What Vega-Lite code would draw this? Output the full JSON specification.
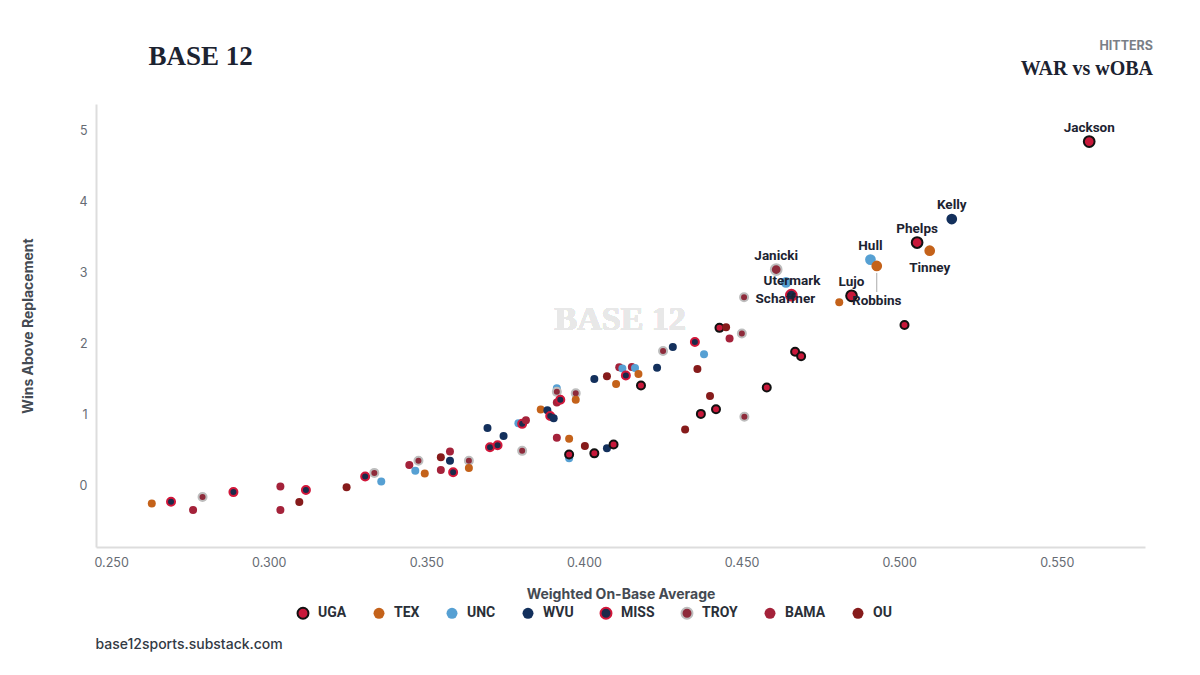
{
  "$schema": "https://vega.github.io/schema/vega-lite/v6.json",
  "width": 1049,
  "height": 443,
  "autosize": {"type": "none"},
  "padding": {"left": 96, "top": 104, "right": 55, "bottom": 128},
  "background": "white",
  "title": {
    "text": "HITTERS",
    "subtitle": "WAR vs wOBA",
    "anchor": "end",
    "frame": "group",
    "dx": 8,
    "offset": -37,
    "font": "Inter",
    "fontSize": 12.5,
    "fontWeight": "bold",
    "color": "#7a7f87",
    "subtitleFont": "Liberation Serif",
    "subtitleFontSize": 20,
    "subtitleFontWeight": "bold",
    "subtitleColor": "#1c2331",
    "subtitlePadding": 7
  },
  "data": {
    "values": [
      {"team": "TEX", "woba": 0.2629, "war": -0.25},
      {"team": "MISS", "woba": 0.2690, "war": -0.225},
      {"team": "BAMA", "woba": 0.2760, "war": -0.34},
      {"team": "TROY", "woba": 0.2790, "war": -0.16},
      {"team": "MISS", "woba": 0.2888, "war": -0.09},
      {"team": "BAMA", "woba": 0.3037, "war": -0.01},
      {"team": "BAMA", "woba": 0.3037, "war": -0.34},
      {"team": "OU", "woba": 0.3097, "war": -0.23},
      {"team": "MISS", "woba": 0.3118, "war": -0.06},
      {"team": "OU", "woba": 0.3247, "war": -0.02},
      {"team": "MISS", "woba": 0.3306, "war": 0.13},
      {"team": "TROY", "woba": 0.3335, "war": 0.18},
      {"team": "UNC", "woba": 0.3357, "war": 0.06},
      {"team": "BAMA", "woba": 0.3446, "war": 0.29},
      {"team": "TROY", "woba": 0.3475, "war": 0.35},
      {"team": "UNC", "woba": 0.3465, "war": 0.21},
      {"team": "TEX", "woba": 0.3495, "war": 0.17},
      {"team": "OU", "woba": 0.3546, "war": 0.40},
      {"team": "BAMA", "woba": 0.3575, "war": 0.48},
      {"team": "WVU", "woba": 0.3575, "war": 0.35},
      {"team": "BAMA", "woba": 0.3546, "war": 0.22},
      {"team": "MISS", "woba": 0.3585, "war": 0.19},
      {"team": "TROY", "woba": 0.3635, "war": 0.35},
      {"team": "TEX", "woba": 0.3635, "war": 0.25},
      {"team": "WVU", "woba": 0.3694, "war": 0.81},
      {"team": "MISS", "woba": 0.3702, "war": 0.54},
      {"team": "MISS", "woba": 0.3726, "war": 0.57},
      {"team": "WVU", "woba": 0.3745, "war": 0.70},
      {"team": "TROY", "woba": 0.3804, "war": 0.49},
      {"team": "UNC", "woba": 0.3792, "war": 0.88},
      {"team": "MISS", "woba": 0.3804, "war": 0.87},
      {"team": "BAMA", "woba": 0.3816, "war": 0.92},
      {"team": "TEX", "woba": 0.3863, "war": 1.07},
      {"team": "WVU", "woba": 0.3884, "war": 1.06},
      {"team": "MISS", "woba": 0.3893, "war": 0.98},
      {"team": "WVU", "woba": 0.3904, "war": 0.95},
      {"team": "UNC", "woba": 0.3914, "war": 1.37},
      {"team": "TROY", "woba": 0.3914, "war": 1.32},
      {"team": "BAMA", "woba": 0.3914, "war": 1.17},
      {"team": "MISS", "woba": 0.3925, "war": 1.21},
      {"team": "TROY", "woba": 0.3974, "war": 1.30},
      {"team": "TEX", "woba": 0.3974, "war": 1.21},
      {"team": "BAMA", "woba": 0.3914, "war": 0.675},
      {"team": "TEX", "woba": 0.3953, "war": 0.66},
      {"team": "UNC", "woba": 0.3953, "war": 0.385},
      {"team": "UGA", "woba": 0.3953, "war": 0.44},
      {"team": "OU", "woba": 0.4003, "war": 0.56},
      {"team": "UGA", "woba": 0.4033, "war": 0.455},
      {"team": "WVU", "woba": 0.4073, "war": 0.525},
      {"team": "UGA", "woba": 0.4094, "war": 0.58},
      {"team": "WVU", "woba": 0.4033, "war": 1.50},
      {"team": "OU", "woba": 0.4073, "war": 1.54},
      {"team": "TEX", "woba": 0.4102, "war": 1.43},
      {"team": "BAMA", "woba": 0.4112, "war": 1.665},
      {"team": "UNC", "woba": 0.4122, "war": 1.65},
      {"team": "MISS", "woba": 0.4133, "war": 1.55},
      {"team": "BAMA", "woba": 0.4152, "war": 1.67},
      {"team": "UNC", "woba": 0.4162, "war": 1.655},
      {"team": "TEX", "woba": 0.4173, "war": 1.57},
      {"team": "UGA", "woba": 0.4181, "war": 1.41},
      {"team": "WVU", "woba": 0.4232, "war": 1.66},
      {"team": "TROY", "woba": 0.4251, "war": 1.895},
      {"team": "WVU", "woba": 0.4282, "war": 1.95},
      {"team": "MISS", "woba": 0.4352, "war": 2.02},
      {"team": "UNC", "woba": 0.4381, "war": 1.85},
      {"team": "OU", "woba": 0.4360, "war": 1.64},
      {"team": "UGA", "woba": 0.4430, "war": 2.22},
      {"team": "OU", "woba": 0.4451, "war": 2.23},
      {"team": "BAMA", "woba": 0.4462, "war": 2.07},
      {"team": "TROY", "woba": 0.4501, "war": 2.14},
      {"team": "OU", "woba": 0.4400, "war": 1.26},
      {"team": "UGA", "woba": 0.4419, "war": 1.075},
      {"team": "UGA", "woba": 0.4371, "war": 1.01},
      {"team": "TROY", "woba": 0.4509, "war": 0.97},
      {"team": "OU", "woba": 0.4321, "war": 0.79},
      {"team": "UGA", "woba": 0.4580, "war": 1.38},
      {"team": "UGA", "woba": 0.4670, "war": 1.885},
      {"team": "UGA", "woba": 0.4689, "war": 1.82},
      {"team": "TEX", "woba": 0.4810, "war": 2.58},
      {"team": "TROY", "woba": 0.4508, "war": 2.65},
      {"team": "UGA", "woba": 0.5017, "war": 2.26},
      {"team": "TROY", "woba": 0.4610, "war": 3.04, "player": "Janicki"},
      {"team": "UNC", "woba": 0.4641, "war": 2.86, "player": "Utermark"},
      {"team": "MISS", "woba": 0.4658, "war": 2.68, "player": "Schaffner"},
      {"team": "UGA", "woba": 0.4849, "war": 2.67, "player": "Lujo"},
      {"team": "UNC", "woba": 0.4909, "war": 3.18, "player": "Hull"},
      {"team": "TEX", "woba": 0.4929, "war": 3.09, "player": "Robbins"},
      {"team": "UGA", "woba": 0.5057, "war": 3.42, "player": "Phelps"},
      {"team": "TEX", "woba": 0.5097, "war": 3.305, "player": "Tinney"},
      {"team": "WVU", "woba": 0.5167, "war": 3.75, "player": "Kelly"},
      {"team": "UGA", "woba": 0.5603, "war": 4.84, "player": "Jackson"}
    ]
  },
  "layer": [
    {
      "mark": {"type": "text", "text": "BASE 12", "font": "Liberation Serif", "fontSize": 34, "fontWeight": "bold", "color": "#e8e8e8"},
      "encoding": {
        "x": {"datum": 0.4115, "type": "quantitative", "axis": null},
        "y": {"datum": 2.33, "type": "quantitative", "axis": null}
      }
    },
    {
      "transform": [{"filter": "!datum.player"}],
      "mark": {"type": "point", "shape": "circle", "filled": true, "size": 64, "strokeWidth": 2, "opacity": 1},
      "encoding": {
        "x": {
          "field": "woba",
          "type": "quantitative",
          "scale": {"domain": [0.2452, 0.578], "nice": false, "zero": false},
          "axis": {
            "title": "Weighted On-Base Average",
            "values": [0.25, 0.3, 0.35, 0.4, 0.45, 0.5, 0.55],
            "format": ".3f",
            "titlePadding": 19
          }
        },
        "y": {
          "field": "war",
          "type": "quantitative",
          "scale": {"domain": [-0.862, 5.368], "nice": false, "zero": false},
          "axis": {
            "title": "Wins Above Replacement",
            "values": [0, 1, 2, 3, 4, 5],
            "titlePadding": 43
          }
        },
        "fill": {
          "field": "team",
          "type": "nominal",
          "title": null,
          "scale": {
            "domain": ["UGA", "TEX", "UNC", "WVU", "MISS", "TROY", "BAMA", "OU"],
            "range": ["#C8183A", "#C4621A", "#56A0D3", "#13305C", "#1B2A4A", "#8E2B3B", "#A4223A", "#861B1B"]
          },
          "legend": {
            "orient": "none",
            "direction": "horizontal",
            "legendX": 200,
            "legendY": 502,
            "symbolType": "circle",
            "symbolSize": 120,
            "symbolStrokeWidth": 2,
            "symbolOpacity": 1,
            "labelFont": "Roboto",
            "labelFontSize": 14,
            "labelFontWeight": "bold",
            "labelColor": "#2a2f38",
            "labelOffset": 8,
            "columnPadding": 22
          }
        },
        "stroke": {
          "field": "team",
          "type": "nominal",
          "title": null,
          "scale": {
            "domain": ["UGA", "TEX", "UNC", "WVU", "MISS", "TROY", "BAMA", "OU"],
            "range": ["#111111", "transparent", "transparent", "transparent", "#D2173A", "#BDBDBD", "transparent", "transparent"]
          }
        }
      }
    },
    {
      "transform": [{"filter": "datum.player"}],
      "mark": {"type": "point", "shape": "circle", "filled": true, "size": 115, "strokeWidth": 2, "opacity": 1},
      "encoding": {
        "x": {
          "field": "woba",
          "type": "quantitative",
          "axis": {
            "orient": "top",
            "labels": false,
            "ticks": false,
            "domain": false,
            "grid": false,
            "title": "BASE 12",
            "titleAngle": 0,
            "titleAlign": "left",
            "titleBaseline": "middle",
            "titleX": 52,
            "titleY": -48,
            "titleFont": "Liberation Serif",
            "titleFontSize": 27,
            "titleFontWeight": "bold",
            "titleColor": "#1c2331"
          }
        },
        "y": {
          "field": "war",
          "type": "quantitative",
          "axis": {
            "orient": "right",
            "labels": false,
            "ticks": false,
            "domain": false,
            "grid": false,
            "title": "base12sports.substack.com",
            "titleAngle": 0,
            "titleAlign": "left",
            "titleBaseline": "middle",
            "titleX": -1050,
            "titleY": 540,
            "titleFont": "Inter",
            "titleFontSize": 14,
            "titleFontWeight": 500,
            "titleColor": "#333a44"
          }
        },
        "fill": {"field": "team", "type": "nominal", "title": null},
        "stroke": {"field": "team", "type": "nominal", "title": null}
      }
    },
    {
      "transform": [{"filter": "datum.player == 'Robbins'"}],
      "mark": {"type": "rule", "color": "#aaaaaa", "strokeWidth": 1, "yOffset": 7, "y2Offset": 26},
      "encoding": {
        "x": {"field": "woba", "type": "quantitative", "axis": null},
        "y": {"field": "war", "type": "quantitative", "axis": null},
        "y2": {"field": "war"}
      }
    },
    {
      "transform": [{"filter": {"field": "player", "oneOf": ["Jackson", "Kelly", "Phelps", "Hull", "Janicki", "Lujo"]}}],
      "mark": {"type": "text", "dy": -14, "font": "Roboto", "fontSize": 13.5, "fontWeight": "bold", "color": "#1c2331"},
      "encoding": {
        "x": {"field": "woba", "type": "quantitative", "axis": null},
        "y": {"field": "war", "type": "quantitative", "axis": null},
        "text": {"field": "player"}
      }
    },
    {
      "transform": [{"filter": "datum.player == 'Tinney'"}],
      "mark": {"type": "text", "dy": 17, "font": "Roboto", "fontSize": 13.5, "fontWeight": "bold", "color": "#1c2331"},
      "encoding": {
        "x": {"field": "woba", "type": "quantitative", "axis": null},
        "y": {"field": "war", "type": "quantitative", "axis": null},
        "text": {"field": "player"}
      }
    },
    {
      "transform": [{"filter": "datum.player == 'Utermark'"}],
      "mark": {"type": "text", "dx": 6, "dy": -1, "font": "Roboto", "fontSize": 13.5, "fontWeight": "bold", "color": "#1c2331"},
      "encoding": {
        "x": {"field": "woba", "type": "quantitative", "axis": null},
        "y": {"field": "war", "type": "quantitative", "axis": null},
        "text": {"field": "player"}
      }
    },
    {
      "transform": [{"filter": "datum.player == 'Schaffner'"}],
      "mark": {"type": "text", "dx": -6, "dy": 4, "font": "Roboto", "fontSize": 13.5, "fontWeight": "bold", "color": "#1c2331"},
      "encoding": {
        "x": {"field": "woba", "type": "quantitative", "axis": null},
        "y": {"field": "war", "type": "quantitative", "axis": null},
        "text": {"field": "player"}
      }
    },
    {
      "transform": [{"filter": "datum.player == 'Robbins'"}],
      "mark": {"type": "text", "dy": 35, "font": "Roboto", "fontSize": 13.5, "fontWeight": "bold", "color": "#1c2331"},
      "encoding": {
        "x": {"field": "woba", "type": "quantitative", "axis": null},
        "y": {"field": "war", "type": "quantitative", "axis": null},
        "text": {"field": "player"}
      }
    }
  ],
  "resolve": {"axis": {"x": "independent", "y": "independent"}},
  "config": {
    "view": {"stroke": null},
    "font": "Inter",
    "axis": {
      "domainColor": "#dddddd",
      "domainWidth": 2,
      "ticks": false,
      "gridColor": "#eeeeee",
      "gridWidth": 1,
      "labelFont": "Inter",
      "labelFontSize": 12.5,
      "labelColor": "#666b73",
      "labelPadding": 9,
      "titleFont": "Inter",
      "titleFontSize": 14,
      "titleFontWeight": "bold",
      "titleColor": "#444a52"
    }
  }
}
